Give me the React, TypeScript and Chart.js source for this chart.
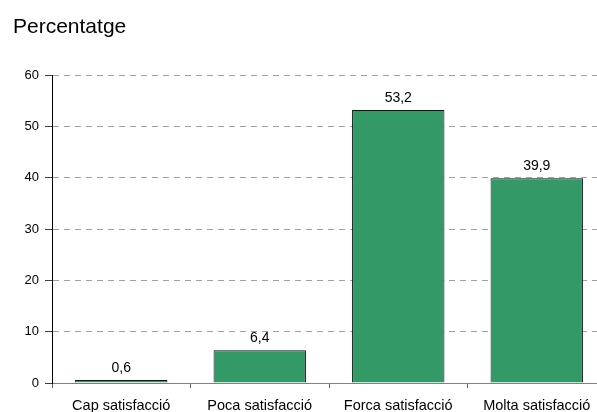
import React, { useEffect, useRef } from "react";
import { Chart, registerables } from "chart.js";

Chart.register(...registerables);

const categories = ["Cap satisfacció", "Poca satisfacció", "Forca satisfacció", "Molta satisfacció"];
const values = [0.6, 6.4, 53.2, 39.9];
const yTicks = [0, 10, 20, 30, 40, 50, 60];
const titleText = "Percentatge";

const FONT = '"Liberation Sans", Arial, Helvetica, sans-serif';

export default function App() {
  const ref = useRef<HTMLCanvasElement | null>(null);

  useEffect(() => {
    const canvas = ref.current;
    if (!canvas) return;

    const labelPlugin = {
      id: "valueLabels",
      afterDatasetsDraw(chart: any) {
        const ctx = chart.ctx;
        ctx.save();
        ctx.font = `14px ${FONT}`;
        ctx.fillStyle = "#000";
        ctx.textAlign = "center";
        ctx.textBaseline = "bottom";
        const meta = chart.getDatasetMeta(0);
        meta.data.forEach((el: any, i: number) => {
          const v = values[i];
          ctx.fillText(v.toFixed(1).replace(".", ","), el.x, el.y - 5);
        });
        ctx.restore();
      },
      afterDraw(chart: any) {
        const ctx = chart.ctx;
        ctx.save();
        ctx.font = `21px ${FONT}`;
        ctx.fillStyle = "#000";
        ctx.textAlign = "left";
        ctx.textBaseline = "alphabetic";
        ctx.fillText(titleText, 13, 33);
        ctx.restore();
      },
    };

    const chart = new Chart(canvas, {
      type: "bar",
      data: {
        labels: categories,
        datasets: [
          {
            data: values,
            backgroundColor: "#339966",
            borderColor: "#111111",
            borderWidth: 1,
            categoryPercentage: 1,
            barPercentage: 0.667,
          },
        ],
      },
      options: {
        animation: false,
        responsive: false,
        devicePixelRatio: 1,
        layout: { padding: { left: 0, right: 14, top: 75, bottom: 0 } },
        plugins: {
          legend: { display: false },
          tooltip: { enabled: false },
          title: { display: false },
        },
        scales: {
          x: {
            offset: true,
            afterFit: (s: any) => {
              s.height = 29;
            },
            grid: {
              offset: true,
              drawOnChartArea: false,
              drawTicks: true,
              tickLength: 5,
              color: "#808080",
              tickColor: "#606060",
            },
            border: { display: true, color: "#808080", width: 1 },
            ticks: {
              color: "#000",
              font: { family: FONT, size: 14.5 },
              padding: 9,
              maxRotation: 0,
              autoSkip: false,
            },
          },
          y: {
            min: 0,
            max: 60,
            afterFit: (s: any) => {
              s.width = 52;
            },
            afterBuildTicks: (s: any) => {
              s.ticks = yTicks.map((v) => ({ value: v }));
            },
            grid: {
              color: "#a0a0a0",
              lineWidth: 1,
              drawTicks: true,
              tickLength: 7,
              tickColor: "#404040",
              tickBorderDash: [],
            },
            border: { display: true, color: "#000", width: 1, dash: [6, 5] },
            ticks: {
              color: "#000",
              font: { family: FONT, size: 13 },
              padding: 6,
            },
          },
        },
      },
      plugins: [labelPlugin],
    });

    return () => chart.destroy();
  }, []);

  return (
    <div
      style={{
        position: "fixed",
        left: 0,
        top: 0,
        width: 597,
        height: 412,
        overflow: "hidden",
        background: "#fff",
      }}
    >
      <canvas
        ref={ref}
        width={620}
        height={412}
        style={{ position: "absolute", left: 0, top: 0, display: "block" }}
      />
    </div>
  );
}
